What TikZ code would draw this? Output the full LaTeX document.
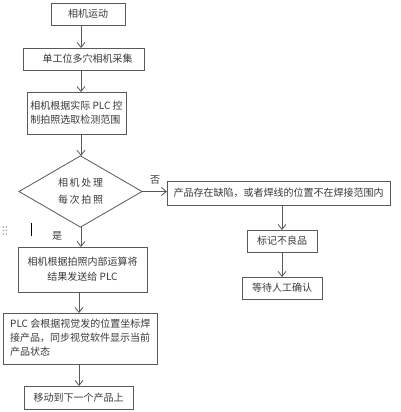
\documentclass[tikz,border=0pt]{standalone}
\usepackage{fontspec}
\setmainfont{Noto Sans CJK SC}
\usetikzlibrary{arrows.meta,shapes.geometric}
\definecolor{ln}{HTML}{595959}
\definecolor{tx}{HTML}{3A3A3A}
\begin{document}
\begin{tikzpicture}[x=1pt,y=-1pt,
  font=\fontsize{10}{14}\selectfont,
  box/.style={draw=ln,line width=0.8pt,text=tx,inner sep=0pt,outer sep=0pt},
  arr/.style={draw=ln,line width=0.8pt,-{Straight Barb[length=5pt,width=8pt,line width=0.8pt]}},
  lab/.style={text=tx,inner sep=0pt}]
\useasboundingbox[fill=white] (0,0) rectangle (400,412);
\node[box,minimum width=74pt,minimum height=22pt] (b1) at (88,14) {相机运动};
\node[box,minimum width=121pt,minimum height=22pt] (b2) at (83.5,59) {\hspace{8pt}单工位多穴相机采集};
\node[box,minimum width=99pt,minimum height=42pt,align=left] (b3) at (76.5,113) {相机根据实际 PLC 控\\[0pt]制拍照选取检测范围};
\node[box,diamond,minimum width=123pt,minimum height=69pt,align=center] (dm) at (80.5,191.5) {相\,机\,处\,理\\[3pt]每\,次\,拍\,照};
\node[box,minimum width=129pt,minimum height=45pt,align=center] (b4) at (82.5,269.5) {相机根据拍照内部运算将\\[1pt]结果发送给 PLC};
\node[box,minimum width=154pt,minimum height=51pt] (b5) at (80,338.5) {};
\node[lab,anchor=north west,align=left] (t5) at (10,319) {PLC 会根据视觉发的位置坐标焊\\[0pt]接产品，同步视觉软件显示当前\\[0pt]产品状态};
\node[box,minimum width=109pt,minimum height=23pt] (b6) at (78.5,397.5) {移动到下一个产品上};
\node[box,minimum width=223pt,minimum height=24pt] (r1) at (278.5,193) {产品存在缺陷，或者焊线的位置不在焊接范围内};
\node[box,minimum width=70pt,minimum height=22pt] (r2) at (282,241) {标记不良品};
\node[box,minimum width=80pt,minimum height=22pt] (r3) at (282,288) {等待人工确认};
\coordinate (cx) at (81,0);
\draw[arr] (b1.south -| cx) -- (b2.north -| cx);
\draw[arr] (b2.south -| cx) -- (b3.north -| cx);
\draw[arr] (b3.south -| cx) -- (dm.north -| cx);
\draw[arr] (dm.south -| cx) -- (b4.north -| cx);
\coordinate (cy) at (79,0);
\draw[arr] (b4.south -| cy) -- (b5.north -| cy);
\draw[arr] (b5.south -| cy) -- (b6.north -| cy);
\draw[arr] (dm.east) -- (r1.west |- dm.east);
\draw[arr] (r1.south -| r2.north) -- (r2.north);
\draw[arr] (r2.south) -- (r3.north);
\node[lab] (no) at (155,180) {否};
\node[lab] (yes) at (57,236) {是};
% stray marks in the reference
\foreach \i in {0,1}{\foreach \j in {0,1,2}{\fill[gray!70] (3.5+3*\i,227+3.5*\j) circle (0.9pt);}}
\draw[black,line width=1pt] (31,223) -- (31,236);
\end{tikzpicture}
\end{document}
